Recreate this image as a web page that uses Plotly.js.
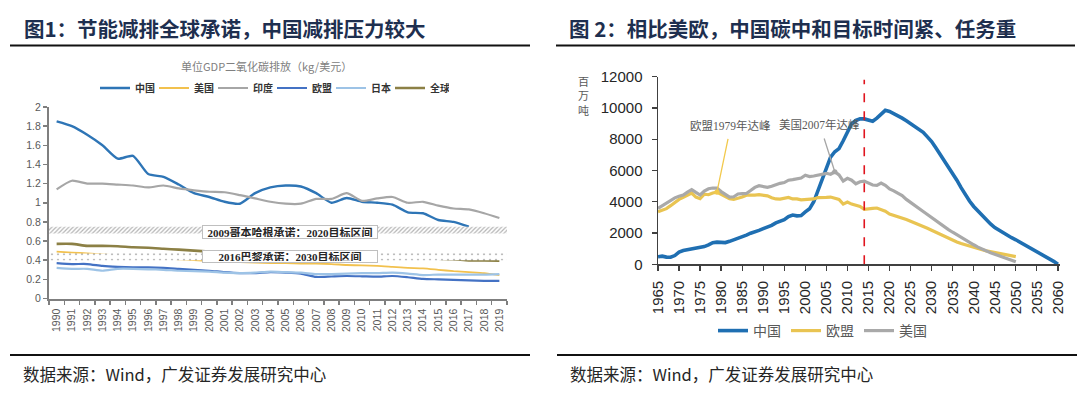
<!DOCTYPE html>
<html>
<head>
<meta charset="utf-8">
<script src="https://cdn.plot.ly/plotly-3.0.1.min.js"></script>
<style>
html,body{margin:0;padding:0;background:#ffffff;}
#chart{width:1080px;height:395px;}
</style>
</head>
<body>
<div id="chart"></div>
<script>
// ---------- Figure 1: CO2 per unit GDP (kg / USD) ----------
const years1 = [1990,1991,1992,1993,1994,1995,1996,1997,1998,1999,2000,2001,2002,2003,2004,2005,2006,2007,2008,2009,2010,2011,2012,2013,2014,2015,2016,2017,2018,2019];
const china1  = [1.85,1.80,1.71,1.60,1.46,1.49,1.30,1.27,1.19,1.10,1.06,1.01,0.99,1.10,1.16,1.18,1.17,1.10,1.00,1.05,1.01,1.00,0.98,0.90,0.89,0.82,0.80,0.75,null,null];
const us1     = [0.49,0.48,0.47,0.46,0.45,0.44,0.43,0.42,0.41,0.40,0.39,0.385,0.38,0.375,0.37,0.37,0.365,0.365,0.36,0.35,0.345,0.34,0.33,0.32,0.315,0.30,0.285,0.275,0.265,0.245];
const india1  = [1.14,1.23,1.20,1.20,1.19,1.18,1.16,1.18,1.15,1.13,1.115,1.11,1.08,1.045,1.01,0.99,0.99,1.04,1.04,1.10,1.02,1.045,1.06,1.00,1.01,0.97,0.94,0.93,0.89,0.84];
const eu1     = [0.37,0.36,0.36,0.34,0.33,0.325,0.325,0.32,0.31,0.30,0.29,0.275,0.265,0.265,0.275,0.27,0.26,0.225,0.23,0.235,0.232,0.228,0.235,0.222,0.205,0.20,0.195,0.19,0.185,0.185];
const japan1  = [0.32,0.31,0.31,0.29,0.31,0.31,0.305,0.30,0.29,0.285,0.28,0.27,0.265,0.27,0.28,0.275,0.27,0.255,0.255,0.26,0.265,0.265,0.27,0.26,0.245,0.25,0.25,0.25,0.25,0.255];
const global1 = [0.57,0.57,0.55,0.55,0.545,0.535,0.53,0.52,0.51,0.50,0.49,0.48,0.475,0.47,0.465,0.46,0.455,0.45,0.445,0.44,0.44,0.435,0.43,0.425,0.42,0.415,0.41,0.398,0.397,0.395];
const copenhagenBand = [0.68, 0.75];   // 2009 Copenhagen pledge: 2020 target range
const parisBand      = [0.40, 0.47];   // 2016 Paris pledge: 2030 target range
const names1 = ['中国','美国','印度','欧盟','日本','全球'];

// ---------- Figure 2: CO2 emissions (million tonnes) ----------
const years2 = [1965,1966,1967,1968,1969,1970,1971,1972,1973,1974,1975,1976,1977,1978,1979,1980,1981,1982,1983,1984,1985,1986,1987,1988,1989,1990,1991,1992,1993,1994,1995,1996,1997,1998,1999,2000,2001,2002,2003,2004,2005,2006,2007,2008,2009,2010,2011,2012,2013,2014,2015,2016,2017,2018,2019,2020,2021,2022,2023,2024,2025,2026,2027,2028,2029,2030,2031,2032,2033,2034,2035,2036,2037,2038,2039,2040,2041,2042,2043,2044,2045,2046,2047,2048,2049,2050,2051,2052,2053,2054,2055,2056,2057,2058,2059,2060];
const china2 = [480,520,460,450,560,780,880,930,960,990,1090,1130,1240,1380,1420,1400,1390,1470,1560,1680,1780,1870,1990,2110,2170,2280,2380,2490,2650,2750,2850,3050,3150,3100,3120,3350,3550,4000,4700,5400,6200,6850,7200,7400,7900,8500,9000,9200,9300,9300,9200,9150,9350,9600,9850,9780,9650,9500,9350,9180,9000,8820,8630,8440,8150,7850,7450,7050,6650,6230,5800,5380,4900,4450,4050,3700,3400,3100,2850,2580,2350,2180,2000,1850,1700,1570,1420,1270,1110,970,830,680,520,360,190,0];
const eu2 = [3360,3450,3560,3750,3950,4150,4280,4400,4560,4300,4200,4480,4450,4560,4620,4480,4330,4200,4150,4200,4300,4420,4450,4430,4450,4430,4380,4260,4180,4170,4200,4280,4180,4180,4120,4150,4200,4180,4270,4300,4280,4300,4220,4150,3850,3980,3850,3780,3700,3520,3570,3580,3600,3520,3400,3220,3140,3050,2960,2860,2750,2650,2540,2420,2300,2180,2050,1920,1790,1660,1540,1430,1330,1240,1150,1070,1000,930,860,800,740,690,640,590,540,490];
const us2 = [3580,3750,3900,4080,4250,4350,4430,4620,4780,4600,4430,4680,4830,4880,4870,4650,4480,4300,4320,4500,4520,4530,4720,4920,5030,4980,4920,4990,5100,5180,5230,5380,5420,5450,5520,5700,5610,5650,5700,5800,5820,5760,5920,5720,5320,5500,5380,5150,5280,5320,5170,5070,5050,5200,5050,4820,4700,4560,4400,4150,3970,3780,3580,3380,3180,2980,2780,2590,2400,2220,2050,1880,1720,1560,1400,1250,1100,970,850,740,640,540,440,340,250,160];
const names2 = ['中国','欧盟','美国'];
const euPeakYear = 1979;
const usPeakYear = 2007;
const markerYear = 2014;   // red dashed reference line
const markerTop = 11800;

// ---------- helpers ----------
const W = 1080, H = 395;
const px = v => v / W;
const py = v => 1 - v / H;
const CJK = '"Noto Sans CJK SC", "Noto Sans", sans-serif';
const SANS = '"Liberation Sans", Arial, "Noto Sans CJK SC", sans-serif';
const SERIF = '"Liberation Serif", "DejaVu Serif", "Noto Sans CJK SC", serif';

const x1lo = years1[0] - 0.5, x1hi = years1[years1.length - 1] + 0.5;
const boundaries1 = years1.map(y => y - 0.5).concat([x1hi]);

const colors1 = ['#2e75b6', '#f2c14e', '#a6a6a6', '#4472c4', '#9dc3e6', '#8c8045'];
const widths1 = [2.4, 1.8, 2.2, 2.2, 2.2, 2.6];
const series1 = [china1, us1, india1, eu1, japan1, global1];

const data = [];
series1.forEach((s, i) => {
  data.push({
    type: 'scatter', mode: 'lines', x: years1, y: s, name: names1[i],
    xaxis: 'x', yaxis: 'y', legend: 'legend',
    line: {color: colors1[i], width: widths1[i], shape: 'spline', smoothing: 0.6},
    connectgaps: false, hoverinfo: 'skip'
  });
});
// target bands (drawn above the lines, like the original)
function band(lims, pattern) {
  return {
    type: 'scatter', mode: 'lines', xaxis: 'x', yaxis: 'y',
    x: [x1lo, x1hi, x1hi, x1lo, x1lo],
    y: [lims[0], lims[0], lims[1], lims[1], lims[0]],
    fill: 'toself', fillcolor: '#ffffff', fillpattern: pattern,
    line: {width: 0, color: 'rgba(0,0,0,0)'}, showlegend: false, hoverinfo: 'skip'
  };
}
data.push(band(copenhagenBand, {shape: '/', fgcolor: '#b4b4b4', bgcolor: '#ffffff', size: 3, solidity: 0.4}));
data.push(band(parisBand, {shape: '.', fgcolor: '#bcbcbc', bgcolor: '#ffffff', size: 6, solidity: 0.12}));

const colors2 = ['#1f6fb2', '#e9c452', '#a9a9a9'];
const widths2 = [3.6, 3.2, 3.2];
const series2 = [china2, eu2, us2];
series2.forEach((s, i) => {
  data.push({
    type: 'scatter', mode: 'lines', x: years2.slice(0, s.length), y: s, name: names2[i],
    xaxis: 'x2', yaxis: 'y2', legend: 'legend2',
    line: {color: colors2[i], width: widths2[i]}, hoverinfo: 'skip'
  });
});

const tick1 = {family: SANS, size: 10.5, color: '#595959'};
const tick2 = {family: SANS, size: 15, color: '#262626'};

const layout = {
  width: W, height: H,
  margin: {l: 0, r: 0, t: 0, b: 0},
  paper_bgcolor: '#ffffff', plot_bgcolor: 'rgba(0,0,0,0)',
  font: {family: CJK},
  xaxis: {
    domain: [px(49), px(507)], range: [x1lo, x1hi], anchor: 'y',
    tickmode: 'array', tickvals: years1, ticktext: years1.map(String),
    tickangle: -90, ticks: '', showline: true, linecolor: '#7f7f7f', linewidth: 2,
    showgrid: false, zeroline: false, tickfont: tick1, ticklabelstandoff: 4,
    minor: {tickmode: 'array', tickvals: boundaries1, ticks: 'outside', ticklen: 4, tickcolor: '#7f7f7f', tickwidth: 1.5, showgrid: false}
  },
  yaxis: {
    domain: [py(298.5), py(107)], range: [0, 2], anchor: 'x',
    tick0: 0, dtick: 0.2, ticks: 'outside', ticklen: 4, tickcolor: '#7f7f7f', tickwidth: 1.5,
    showline: true, linecolor: '#7f7f7f', linewidth: 2, showgrid: false, zeroline: false,
    tickfont: tick1
  },
  xaxis2: {
    domain: [px(658), px(1060)], range: [years2[0], years2[years2.length - 1] + 0.5], anchor: 'y2',
    tickmode: 'linear', tick0: years2[0], dtick: 5, tickangle: -90, tickformat: 'd',
    ticks: 'outside', ticklen: 5, tickcolor: '#404040', tickwidth: 1.3,
    showline: true, linecolor: '#404040', linewidth: 1.5, showgrid: false, zeroline: false,
    tickfont: tick2, ticklabelstandoff: 4
  },
  yaxis2: {
    domain: [py(264.3), py(76.7)], range: [0, 12000], anchor: 'x2',
    tick0: 0, dtick: 2000, tickformat: 'd', ticks: 'outside', ticklen: 5, tickcolor: '#404040', tickwidth: 1.3,
    showline: true, linecolor: '#404040', linewidth: 1.5, showgrid: false, zeroline: false,
    tickfont: tick2, ticklabelstandoff: 6
  },
  showlegend: true,
  legend: {
    orientation: 'h', x: px(272), y: py(88), xanchor: 'center', yanchor: 'middle',
    font: {family: CJK, size: 10, color: '#333333', weight: 'bold'},
    bgcolor: 'rgba(0,0,0,0)', itemwidth: 30, tracegroupgap: 0, entrywidth: 14
  },
  legend2: {
    orientation: 'h', x: px(713), y: py(331), xanchor: 'left', yanchor: 'middle',
    font: {family: CJK, size: 14, color: '#595959'},
    bgcolor: 'rgba(0,0,0,0)', itemwidth: 30
  },
  shapes: [
    {type: 'line', xref: 'paper', yref: 'paper', x0: px(10), x1: px(530), y0: py(45.5), y1: py(45.5), line: {color: '#111111', width: 2}},
    {type: 'line', xref: 'paper', yref: 'paper', x0: px(556), x1: px(1075), y0: py(45.5), y1: py(45.5), line: {color: '#111111', width: 2}},
    {type: 'line', xref: 'paper', yref: 'paper', x0: px(10), x1: px(530), y0: py(355), y1: py(355), line: {color: '#111111', width: 2}},
    {type: 'line', xref: 'paper', yref: 'paper', x0: px(557), x1: px(1077), y0: py(355), y1: py(355), line: {color: '#111111', width: 2}},
    {type: 'line', xref: 'x2', yref: 'y2', x0: markerYear, x1: markerYear, y0: 0, y1: markerTop, line: {color: '#e0141e', width: 1.6, dash: 'dash'}}
  ],
  annotations: [
    {xref: 'paper', yref: 'paper', x: px(22), y: py(27.5), xanchor: 'left', yanchor: 'middle', showarrow: false,
     text: '<b>图1：节能减排全球承诺，中国减排压力较大</b>', font: {family: CJK, size: 20.5, color: '#1e2f4f'}},
    {xref: 'paper', yref: 'paper', x: px(567), y: py(27.5), xanchor: 'left', yanchor: 'middle', showarrow: false,
     text: '<b>图 2：相比美欧，中国碳中和目标时间紧、任务重</b>', font: {family: CJK, size: 20.5, color: '#1e2f4f'}},
    {xref: 'paper', yref: 'paper', x: px(266), y: py(66), xanchor: 'center', yanchor: 'middle', showarrow: false,
     text: '单位GDP二氧化碳排放（kg/美元）', font: {family: CJK, size: 11, color: '#808080'}},
    {xref: 'paper', yref: 'paper', x: px(290), y: py(231.5), xanchor: 'center', yanchor: 'middle', showarrow: false,
     text: '<b>2009哥本哈根承诺：2020目标区间</b>', font: {family: SERIF, size: 11, color: '#262626'},
     bgcolor: '#ffffff', bordercolor: '#bfbfbf', borderwidth: 1, borderpad: 1, width: 172, height: 10},
    {xref: 'paper', yref: 'paper', x: px(290), y: py(256.2), xanchor: 'center', yanchor: 'middle', showarrow: false,
     text: '<b>2016巴黎承诺：2030目标区间</b>', font: {family: SERIF, size: 11, color: '#262626'},
     bgcolor: '#ffffff', bordercolor: '#bfbfbf', borderwidth: 1, borderpad: 1, width: 172, height: 9},
    {xref: 'paper', yref: 'paper', x: px(583), y: py(96), xanchor: 'center', yanchor: 'middle', showarrow: false,
     text: '百<br>万<br>吨', font: {family: CJK, size: 11, color: '#595959'}},
    {xref: 'x2', yref: 'y2', x: euPeakYear, y: eu2[years2.indexOf(euPeakYear)], ax: 14, ay: -67,
     text: '欧盟1979年达峰', showarrow: true, arrowhead: 6, arrowsize: 1, arrowwidth: 1.3, arrowcolor: '#f2c94c',
     startstandoff: 6, standoff: 0, font: {family: SERIF, size: 11.5, color: '#595959'}},
    {xref: 'x2', yref: 'y2', x: usPeakYear, y: us2[years2.indexOf(usPeakYear)], ax: -15, ay: -47,
     text: '美国2007年达峰', showarrow: true, arrowhead: 6, arrowsize: 1, arrowwidth: 1.3, arrowcolor: '#a6a6a6',
     startstandoff: 6, standoff: 0, font: {family: SERIF, size: 11.5, color: '#595959'}},
    {xref: 'paper', yref: 'paper', x: px(21), y: py(374), xanchor: 'left', yanchor: 'middle', showarrow: false,
     text: '数据来源：Wind，广发证券发展研究中心', font: {family: CJK, size: 16.5, color: '#262626'}},
    {xref: 'paper', yref: 'paper', x: px(568), y: py(374), xanchor: 'left', yanchor: 'middle', showarrow: false,
     text: '数据来源：Wind，广发证券发展研究中心', font: {family: CJK, size: 16.5, color: '#262626'}}
  ]
};

Plotly.newPlot('chart', data, layout, {displayModeBar: false, staticPlot: true});
</script>
</body>
</html>
